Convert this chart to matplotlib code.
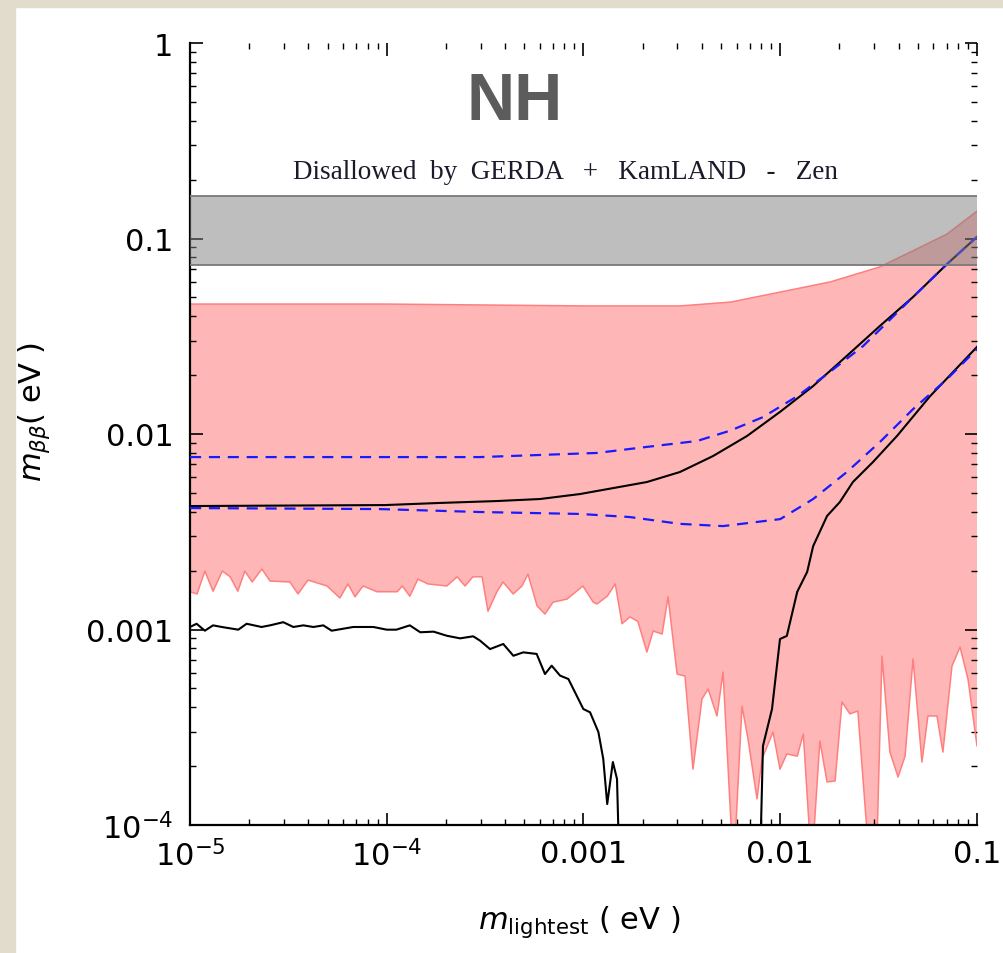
import numpy as np
import matplotlib
matplotlib.use("Agg")
import matplotlib.pyplot as plt
from matplotlib.patches import Rectangle

# allowed region (pink band): upper and lower edges
band_up_x = [1e-5, 1e-4, 1e-3, 3.1e-3, 5.6e-3, 1e-2, 1.8e-2, 3.2e-2, 4.7e-2, 7e-2, 0.1]
band_up_y = [0.0462, 0.0462, 0.0452, 0.0452, 0.0473, 0.0532, 0.060, 0.0715, 0.0863, 0.105, 0.138]

band_lo_x = [1.0e-5, 1.086e-5, 1.19e-5, 1.31e-5, 1.46e-5, 1.60e-5, 1.75e-5, 1.90e-5, 2.07e-5, 2.32e-5,
             2.55e-5, 3.22e-5, 3.54e-5, 3.98e-5, 4.97e-5, 5.78e-5, 6.35e-5, 6.90e-5, 7.57e-5, 8.92e-5,
             1.13e-4, 1.20e-4, 1.31e-4, 1.44e-4, 1.62e-4, 2.02e-4, 2.28e-4, 2.50e-4, 2.74e-4, 3.05e-4,
             3.27e-4, 3.63e-4, 3.90e-4, 4.39e-4, 4.87e-4, 5.22e-4, 5.81e-4, 6.37e-4, 7.00e-4, 8.24e-4,
             9.93e-4, 1.12e-3, 1.17e-3, 1.32e-3, 1.45e-3, 1.57e-3, 1.72e-3, 1.89e-3, 2.10e-3, 2.26e-3,
             2.51e-3, 2.69e-3, 2.99e-3, 3.28e-3, 3.60e-3, 4.00e-3, 4.30e-3, 4.77e-3, 5.12e-3, 5.69e-3,
             5.89e-3, 6.39e-3, 6.86e-3, 7.62e-3, 8.08e-3, 9.19e-3, 9.97e-3, 1.08e-2, 1.22e-2, 1.31e-2,
             1.42e-2, 1.47e-2, 1.59e-2, 1.73e-2, 1.90e-2, 2.06e-2, 2.26e-2, 2.48e-2, 2.79e-2, 3.10e-2,
             3.29e-2, 3.61e-2, 3.97e-2, 4.31e-2, 4.73e-2, 5.25e-2, 5.63e-2, 6.26e-2, 6.71e-2, 7.46e-2,
             8.20e-2, 9.00e-2, 0.1]
band_lo_y = [1.56e-3, 1.52e-3, 1.99e-3, 1.57e-3, 1.99e-3, 1.86e-3, 1.57e-3, 1.99e-3, 1.75e-3, 2.04e-3,
             1.77e-3, 1.75e-3, 1.52e-3, 1.79e-3, 1.67e-3, 1.45e-3, 1.71e-3, 1.47e-3, 1.67e-3, 1.56e-3,
             1.56e-3, 1.67e-3, 1.48e-3, 1.81e-3, 1.71e-3, 1.67e-3, 1.86e-3, 1.67e-3, 1.86e-3, 1.86e-3,
             1.24e-3, 1.56e-3, 1.75e-3, 1.52e-3, 1.67e-3, 1.92e-3, 1.32e-3, 1.20e-3, 1.38e-3, 1.43e-3,
             1.67e-3, 1.38e-3, 1.35e-3, 1.48e-3, 1.71e-3, 1.07e-3, 1.16e-3, 1.10e-3, 7.67e-4, 9.82e-4,
             9.48e-4, 1.47e-3, 5.92e-4, 5.78e-4, 1.93e-4, 4.41e-4, 4.96e-4, 3.61e-4, 6.06e-4, 8e-5,
             8e-5, 4.06e-4, 2.75e-4, 1.36e-4, 2.18e-4, 2.99e-4, 1.93e-4, 2.31e-4, 2.25e-4, 2.92e-4,
             8e-5, 8e-5, 2.69e-4, 1.66e-4, 1.68e-4, 4.26e-4, 3.70e-4, 3.83e-4, 8e-5, 8e-5,
             7.31e-4, 2.36e-4, 1.76e-4, 2.25e-4, 7.07e-4, 2.10e-4, 3.61e-4, 3.61e-4, 2.36e-4, 6.50e-4,
             8.13e-4, 5.58e-4, 2.54e-4]

# black solid curves
upper_x = [1e-5, 9.8e-5, 1.87e-4, 3.63e-4, 6.01e-4, 9.59e-4, 2.10e-3, 3.09e-3, 4.55e-3, 6.78e-3,
           1e-2, 1.47e-2, 2.18e-2, 3.21e-2, 4.73e-2, 7.05e-2, 0.1]
upper_y = [4.28e-3, 4.33e-3, 4.44e-3, 4.54e-3, 4.65e-3, 4.93e-3, 5.68e-3, 6.39e-3, 7.71e-3, 9.77e-3,
           1.30e-2, 1.76e-2, 2.51e-2, 3.57e-2, 5.02e-2, 7.41e-2, 0.102]

rise_x = [7.85e-3, 8.17e-3, 9.08e-3, 9.97e-3, 1.08e-2, 1.22e-2, 1.37e-2, 1.47e-2, 1.73e-2, 2.01e-2,
          2.34e-2, 2.96e-2, 3.92e-2, 5.77e-2, 0.1]
rise_y = [5e-5, 2.54e-4, 3.92e-4, 8.94e-4, 9.27e-4, 1.56e-3, 1.97e-3, 2.67e-3, 3.81e-3, 4.49e-3,
          5.68e-3, 7.19e-3, 9.77e-3, 1.56e-2, 2.79e-2]

fall_x = [1e-5, 1.08e-5, 1.19e-5, 1.31e-5, 1.45e-5, 1.76e-5, 1.94e-5, 2.31e-5, 2.55e-5, 2.98e-5,
          3.35e-5, 3.77e-5, 4.24e-5, 4.76e-5, 5.25e-5, 6.76e-5, 8.55e-5, 1.0e-4, 1.12e-4, 1.31e-4,
          1.48e-4, 1.73e-4, 2.02e-4, 2.36e-4, 2.75e-4, 2.98e-4, 3.35e-4, 3.91e-4, 4.40e-4, 4.94e-4,
          5.78e-4, 6.37e-4, 6.89e-4, 7.60e-4, 8.38e-4, 9.98e-4, 1.08e-3, 1.19e-3, 1.26e-3, 1.32e-3,
          1.41e-3, 1.48e-3, 1.53e-3]
fall_y = [1.03e-3, 1.07e-3, 9.86e-4, 1.05e-3, 1.03e-3, 9.98e-4, 1.07e-3, 1.03e-3, 1.05e-3, 1.09e-3,
          1.03e-3, 1.05e-3, 1.03e-3, 1.05e-3, 9.86e-4, 1.03e-3, 1.03e-3, 9.98e-4, 9.98e-4, 1.05e-3,
          9.68e-4, 9.75e-4, 9.29e-4, 9.01e-4, 9.23e-4, 8.77e-4, 7.94e-4, 8.43e-4, 7.34e-4, 7.64e-4,
          7.50e-4, 5.92e-4, 6.53e-4, 5.81e-4, 5.58e-4, 3.92e-4, 3.77e-4, 2.99e-4, 2.18e-4, 1.28e-4,
          2.10e-4, 1.72e-4, 5e-5]

# blue dashed curves
dash_up_x = [1e-5, 2.98e-4, 1.17e-3, 2.10e-3, 3.78e-3, 5.56e-3, 8.17e-3, 1.22e-2, 1.79e-2, 2.64e-2,
             4.73e-2, 7.05e-2, 0.1]
dash_up_y = [7.62e-3, 7.62e-3, 8.0e-3, 8.59e-3, 9.21e-3, 1.04e-2, 1.22e-2, 1.56e-2, 2.08e-2, 2.82e-2,
             5.02e-2, 7.41e-2, 0.102]
dash_lo_x = [1e-5, 9.25e-5, 2.98e-4, 9.59e-4, 1.72e-3, 3.09e-3, 5.12e-3, 1e-2, 1.47e-2, 2.18e-2,
             3.21e-2, 4.73e-2, 7.05e-2, 0.1]
dash_lo_y = [4.18e-3, 4.13e-3, 3.99e-3, 3.90e-3, 3.76e-3, 3.47e-3, 3.38e-3, 3.67e-3, 4.65e-3, 6.39e-3,
             9.10e-3, 1.34e-2, 1.91e-2, 2.72e-2]

# GERDA + KamLAND-Zen bound
excl_lo, excl_hi = 0.0735, 0.165

xticks = [1e-5, 1e-4, 1e-3, 1e-2, 0.1]
xticklabels = [r'$10^{-5}$', r'$10^{-4}$', '0.001', '0.01', '0.1']
yticks = [1e-4, 1e-3, 1e-2, 0.1, 1]
yticklabels = [r'$10^{-4}$', '0.001', '0.01', '0.1', '1']

fig = plt.figure(figsize=(10.04, 9.54), dpi=100)
fig.patch.set_facecolor('white')
# beige page edge at top / left
fig.patches.append(Rectangle((0, 0), 15 / 1004, 1, transform=fig.transFigure, color='#e2dccd', zorder=0))
fig.patches.append(Rectangle((0, 1 - 8 / 954), 1, 8 / 954, transform=fig.transFigure, color='#e2dccd', zorder=0))

ax = fig.add_axes([190 / 1004, 1 - 826 / 954, 787 / 1004, 782 / 954])
ax.set_xscale('log')
ax.set_yscale('log')
ax.set_xlim(1e-5, 0.1)
ax.set_ylim(1e-4, 1)

poly_x = np.concatenate([band_lo_x, band_up_x[::-1]])
poly_y = np.concatenate([band_lo_y, band_up_y[::-1]])
ax.fill(poly_x, poly_y, color='#ffb6b6', lw=0, zorder=1)
ax.plot(band_lo_x, band_lo_y, color='#ff7f7f', lw=1.1, zorder=2)
ax.plot(band_up_x, band_up_y, color='#ff7f7f', lw=1.1, zorder=2)

ax.plot(upper_x, upper_y, color='black', lw=1.5, zorder=3)
ax.plot(rise_x, rise_y, color='black', lw=1.5, zorder=3)
ax.plot(fall_x, fall_y, color='black', lw=1.5, zorder=3)
ax.plot(dash_up_x, dash_up_y, color='#1a1aff', lw=1.6, ls=(0, (5, 3.5)), zorder=4)
ax.plot(dash_lo_x, dash_lo_y, color='#1a1aff', lw=1.6, ls=(0, (5, 3.5)), zorder=4)

# excluded band drawn on top, semi transparent
ax.axhspan(excl_lo, excl_hi, color='#7f7f7f', alpha=0.5, lw=0, zorder=5)
ax.axhline(excl_lo, color='#7a7a7a', lw=1.3, zorder=5)
ax.axhline(excl_hi, color='#7a7a7a', lw=1.3, zorder=5)

ax.text(0.477, 0.836, 'Disallowed  by  GERDA   +   KamLAND   -   Zen', transform=ax.transAxes,
        ha='center', va='center', fontsize=19.5, family='Liberation Serif', color='#1a1a2a')
ax.text(0.413, 0.925, 'NH', transform=ax.transAxes, ha='center', va='center',
        fontsize=48, fontweight='bold', family='Liberation Sans', color='#5c5c5c')

ax.set_xticks(xticks)
ax.set_xticklabels(xticklabels)
ax.set_yticks(yticks)
ax.set_yticklabels(yticklabels)
ax.tick_params(which='both', direction='in', top=True, right=True, labelsize=22)
ax.tick_params(which='major', length=9, width=1.2)
ax.tick_params(which='minor', length=4, width=1)
ax.tick_params(axis='y', which='major', pad=12)
ax.tick_params(axis='x', which='major', pad=10)

ax.spines['top'].set_visible(False)
ax.spines['right'].set_visible(False)
ax.spines['left'].set_linewidth(1.6)
ax.spines['bottom'].set_linewidth(1.6)

ax.set_xlabel(r'$m_{\rm lightest}$ ( eV )', fontsize=22)
ax.xaxis.set_label_coords(0.495, -0.1)
ax.set_ylabel(r'$m_{\beta\beta}$( eV )', fontsize=22)
ax.yaxis.set_label_coords(-0.175, 0.53)

plt.savefig('out.png', dpi=100)
